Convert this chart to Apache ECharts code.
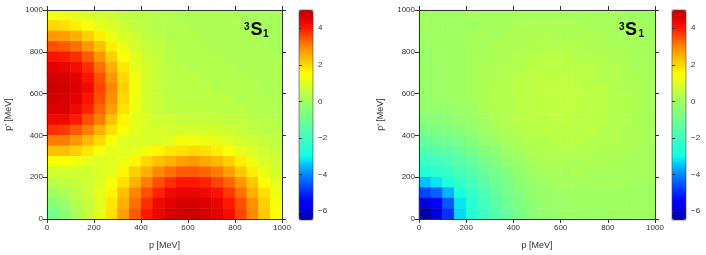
<!DOCTYPE html>
<html><head><meta charset="utf-8">
<script src="https://cdn.jsdelivr.net/npm/echarts/dist/echarts.min.js"></script>
<style>html,body{margin:0;padding:0;background:#fff}#c{width:706px;height:255px}</style>
</head><body><div id="c"></div>
<script>
// cell centres (MeV) of the sampled grid, both axes
const pCenters = [25,75,125,175,225,275,325,375,425,475,525,575,625,675,725,775,825,875,925,975];
const axisTicks = [0,200,400,600,800,1000];
const colorbarTicks = [-6,-4,-2,0,2,4];
const valueMin = -6.5;
const valueMax = 5;
const panelTitle = ['3','S','1'];
const xTitle = 'p [MeV]';
const yTitle = "p' [MeV]";

// left panel, rows from p' = 975 (top) down to p' = 25 (bottom)
const leftRows = [
[1.3,1.2,1.1,0.9,0.8,0.7,0.5,0.4,0.4,0.3,0.3,0.2,0.2,0.2,0.2,0.2,0.1,0.1,0.1,0.1],
[2.0,1.9,1.7,1.4,1.1,0.9,0.7,0.5,0.4,0.3,0.3,0.3,0.2,0.2,0.2,0.2,0.2,0.1,0.1,0.1],
[2.8,2.7,2.5,2.1,1.7,1.2,0.9,0.7,0.5,0.4,0.3,0.3,0.3,0.2,0.2,0.2,0.2,0.2,0.1,0.1],
[3.5,3.4,3.2,2.8,2.3,1.7,1.2,0.8,0.6,0.5,0.4,0.3,0.3,0.3,0.2,0.2,0.2,0.2,0.2,0.1],
[4.1,4.0,3.8,3.4,2.8,2.1,1.4,1.0,0.7,0.5,0.4,0.3,0.3,0.3,0.3,0.2,0.2,0.2,0.2,0.2],
[4.5,4.4,4.2,3.8,3.2,2.5,1.8,1.1,0.8,0.6,0.4,0.4,0.3,0.3,0.3,0.3,0.2,0.2,0.2,0.2],
[4.8,4.7,4.5,4.1,3.5,2.8,2.0,1.3,0.8,0.6,0.4,0.4,0.4,0.3,0.3,0.3,0.3,0.2,0.2,0.2],
[4.9,4.8,4.6,4.3,3.6,3.0,2.1,1.3,0.8,0.6,0.4,0.4,0.4,0.4,0.3,0.3,0.3,0.3,0.2,0.2],
[4.8,4.7,4.5,4.1,3.5,2.9,2.0,1.3,0.8,0.6,0.5,0.4,0.4,0.4,0.4,0.4,0.3,0.3,0.3,0.2],
[4.6,4.6,4.3,3.9,3.3,2.7,1.9,1.2,0.8,0.6,0.5,0.5,0.5,0.5,0.4,0.4,0.4,0.3,0.3,0.3],
[4.3,4.3,4.0,3.5,3.1,2.3,1.6,1.1,0.9,0.7,0.7,0.6,0.6,0.6,0.6,0.5,0.5,0.4,0.4,0.3],
[3.8,3.7,3.4,3.1,2.5,1.9,1.4,1.1,0.9,0.9,0.8,0.8,0.8,0.8,0.8,0.7,0.6,0.5,0.4,0.4],
[3.1,3.1,2.8,2.4,2.0,1.4,1.0,0.9,0.9,0.9,1.0,1.3,1.3,1.2,1.1,1.0,0.8,0.7,0.6,0.5],
[2.3,2.3,2.1,1.8,1.4,1.1,1.0,1.1,1.3,1.6,1.8,1.9,2.0,1.9,1.7,1.4,1.1,0.9,0.7,0.6],
[1.5,1.5,1.3,1.1,1.0,1.0,1.2,1.6,2.0,2.3,2.5,2.7,2.8,2.6,2.4,2.1,1.7,1.2,0.9,0.7],
[0.8,0.8,0.8,0.8,0.9,1.1,1.6,2.1,2.5,3.0,3.2,3.4,3.4,3.3,3.1,2.7,2.2,1.7,1.2,0.8],
[0.4,0.5,0.6,0.7,1.0,1.4,1.9,2.5,3.1,3.5,3.8,4.0,4.0,3.9,3.6,3.3,2.8,2.2,1.5,1.1],
[0.0,0.2,0.4,0.7,1.1,1.6,2.3,3.0,3.5,3.9,4.3,4.4,4.4,4.3,4.1,3.7,3.2,2.5,1.9,1.2],
[-0.4,-0.2,0.3,0.6,1.0,1.8,2.5,3.2,3.8,4.3,4.5,4.7,4.7,4.6,4.4,4.0,3.5,2.9,2.1,1.4],
[-0.9,-0.4,0.1,0.6,1.1,1.9,2.7,3.4,4.0,4.4,4.7,4.8,4.9,4.7,4.5,4.2,3.6,3.0,2.2,1.5]
];

// right panel, rows from p' = 975 (top) down to p' = 25 (bottom)
const rightRows = [
[0.0,0.0,0.0,0.0,0.1,0.1,0.1,0.1,0.1,0.1,0.1,0.1,0.1,0.1,0.1,0.1,0.1,0.0,0.0,0.0],
[0.0,0.0,0.0,0.0,0.0,0.1,0.1,0.1,0.2,0.2,0.2,0.2,0.2,0.2,0.1,0.1,0.1,0.1,0.1,0.0],
[0.0,0.0,0.0,0.0,0.1,0.1,0.1,0.2,0.2,0.2,0.3,0.2,0.2,0.2,0.2,0.2,0.1,0.1,0.1,0.0],
[-0.1,0.0,0.0,0.0,0.1,0.1,0.2,0.2,0.2,0.3,0.3,0.3,0.3,0.3,0.2,0.2,0.2,0.1,0.1,0.1],
[-0.1,-0.1,0.0,0.0,0.1,0.1,0.2,0.2,0.3,0.3,0.4,0.4,0.4,0.3,0.3,0.3,0.2,0.2,0.1,0.1],
[-0.1,-0.1,0.0,0.0,0.1,0.2,0.2,0.3,0.3,0.4,0.4,0.4,0.4,0.4,0.4,0.3,0.3,0.2,0.1,0.1],
[-0.1,-0.1,0.0,0.0,0.1,0.2,0.2,0.3,0.4,0.4,0.5,0.5,0.5,0.4,0.4,0.3,0.3,0.2,0.2,0.1],
[-0.1,-0.1,0.0,0.0,0.1,0.2,0.3,0.3,0.4,0.4,0.5,0.5,0.5,0.5,0.4,0.4,0.3,0.2,0.2,0.1],
[-0.2,-0.1,-0.1,0.0,0.1,0.2,0.3,0.3,0.4,0.4,0.5,0.5,0.5,0.5,0.4,0.4,0.3,0.3,0.2,0.1],
[-0.3,-0.3,-0.2,-0.1,0.0,0.2,0.3,0.3,0.4,0.4,0.5,0.5,0.5,0.5,0.4,0.4,0.3,0.3,0.2,0.1],
[-0.5,-0.5,-0.4,-0.2,-0.1,0.0,0.2,0.3,0.4,0.4,0.4,0.5,0.5,0.4,0.4,0.4,0.3,0.3,0.2,0.1],
[-0.8,-0.7,-0.6,-0.5,-0.3,-0.1,0.1,0.2,0.3,0.4,0.4,0.4,0.4,0.4,0.4,0.3,0.3,0.2,0.2,0.1],
[-1.2,-1.1,-1.0,-0.8,-0.6,-0.3,-0.1,0.1,0.2,0.3,0.3,0.4,0.4,0.4,0.3,0.3,0.3,0.2,0.2,0.1],
[-1.6,-1.5,-1.4,-1.2,-0.9,-0.6,-0.4,-0.1,0.1,0.2,0.3,0.3,0.3,0.3,0.3,0.2,0.2,0.2,0.1,0.1],
[-2.1,-2.0,-1.8,-1.5,-1.2,-0.9,-0.6,-0.3,-0.1,0.1,0.2,0.2,0.2,0.2,0.2,0.2,0.2,0.1,0.1,0.1],
[-2.6,-2.5,-2.2,-1.9,-1.6,-1.2,-0.9,-0.6,-0.3,-0.1,0.1,0.1,0.1,0.2,0.1,0.1,0.1,0.1,0.1,0.1],
[-3.5,-3.2,-2.8,-2.3,-1.9,-1.5,-1.1,-0.8,-0.4,-0.2,-0.1,0.1,0.1,0.1,0.1,0.1,0.1,0.1,0.0,0.0],
[-4.7,-4.4,-3.6,-2.8,-2.2,-1.8,-1.3,-0.9,-0.6,-0.3,-0.2,-0.1,0.0,0.0,0.0,0.0,0.0,0.0,0.0,0.0],
[-6.0,-5.5,-4.5,-3.2,-2.5,-2.0,-1.5,-1.1,-0.7,-0.4,-0.2,-0.1,-0.1,0.0,0.0,0.0,0.0,0.0,0.0,0.0],
[-6.5,-6.0,-4.9,-3.3,-2.6,-2.1,-1.6,-1.2,-0.8,-0.5,-0.3,-0.2,-0.1,-0.1,-0.1,-0.1,0.0,0.0,0.0,0.0]
];

// colour map, evenly spaced from valueMin to valueMax (style, not data)
const colormap = ['#0000a0','#0000d8','#0000ff','#0028ff','#0058ff','#0088ff','#00c0ff','#10ffe8',
  '#28ffd0','#40ffc0','#58ffa8','#70ff90','#88ff78','#a0ff60','#c0ff40','#e0ff20',
  '#ffff00','#ffd800','#ffb000','#ff8800','#ff5000','#ff1800','#e40000','#c40000'];

function toCells(rows){
  const out = [];
  rows.forEach((row, r) => row.forEach((v, c) => out.push([c, rows.length - 1 - r, v])));
  return out;
}

const FONT = 'Liberation Sans, Arial, sans-serif';
const AX = '#333';
const panels = [
  {left: 47, width: 235, cb: 299},
  {left: 419, width: 236, cb: 672}
];

const grid = [], xAxis = [], yAxis = [], series = [], visualMap = [], graphic = [];
panels.forEach((pn, i) => {
  grid.push({left: pn.left, top: 10, width: pn.width, height: 210});
  const gi = grid.length - 1;
  const valAxisBase = {gridIndex: gi, type: 'value', min: axisTicks[0], max: axisTicks[axisTicks.length - 1],
    interval: axisTicks[1] - axisTicks[0], z: 10,
    axisLine: {show: true, lineStyle: {color: AX, width: 1}},
    axisTick: {show: true, inside: false, length: 4, lineStyle: {color: AX}},
    splitLine: {show: false}};
  const lblX = {fontSize: 8, color: AX, fontFamily: FONT, margin: 5, formatter: v => String(v)};
  const lblY = {fontSize: 8, color: AX, fontFamily: FONT, margin: 4, formatter: v => String(v)};
  xAxis.push({gridIndex: gi, type: 'category', data: pCenters, show: false});
  xAxis.push(Object.assign({}, valAxisBase, {position: 'bottom', axisLabel: lblX,
    name: xTitle, nameLocation: 'middle', nameGap: 22,
    nameTextStyle: {fontSize: 9, color: AX, fontFamily: FONT}}));
  xAxis.push(Object.assign({}, valAxisBase, {position: 'top', axisLabel: {show: false}}));
  yAxis.push({gridIndex: gi, type: 'category', data: pCenters, show: false});
  yAxis.push(Object.assign({}, valAxisBase, {position: 'left', axisLabel: lblY,
    name: yTitle, nameLocation: 'middle', nameGap: 34, nameRotate: 90,
    nameTextStyle: {fontSize: 9, color: AX, fontFamily: FONT}}));
  yAxis.push(Object.assign({}, valAxisBase, {position: 'right', axisLabel: {show: false}}));
  series.push({type: 'heatmap', xAxisIndex: xAxis.length - 3, yAxisIndex: yAxis.length - 3,
    data: toCells(i === 0 ? leftRows : rightRows), progressive: 0, silent: true,
    itemStyle: {borderWidth: 0}, emphasis: {disabled: true}});
  visualMap.push({type: 'continuous', seriesIndex: i, min: valueMin, max: valueMax,
    calculable: false, show: true, orient: 'vertical', left: pn.cb, top: 10,
    itemWidth: 14, itemHeight: 210, padding: 0, text: null, hoverLink: false,
    inRange: {color: colormap}});
});

// colorbar label axes
panels.forEach((pn) => {
  grid.push({left: pn.cb, top: 10, width: 14, height: 210});
  const gi = grid.length - 1;
  xAxis.push({gridIndex: gi, type: 'value', show: false});
  yAxis.push({gridIndex: gi, type: 'value', min: valueMin, max: valueMax, position: 'right', z: 10,
    axisLine: {show: false},
    axisTick: {show: true, length: 3, inside: false, lineStyle: {color: AX}, customValues: colorbarTicks},
    axisLabel: {show: true, fontSize: 8, color: AX, fontFamily: FONT, margin: 5,
      customValues: colorbarTicks, formatter: v => v < 0 ? '\u2212' + Math.abs(v) : String(v)},
    splitLine: {show: false}});
  graphic.push({type: 'rect', z: 100, shape: {x: pn.cb, y: 10, width: 14, height: 210},
    style: {fill: 'none', stroke: '#444', lineWidth: 0.6}});
});

// panel labels 3S1
[{x: 244, sx: 250.5, bx: 263}, {x: 619, sx: 625, bx: 638.5}].forEach(t => {
  graphic.push({type: 'text', z: 100, x: t.x, y: 27, style: {text: panelTitle[0], font: 'bold 10px ' + FONT, fill: '#000', textAlign: 'left', textVerticalAlign: 'middle'}});
  graphic.push({type: 'text', z: 100, x: t.sx, y: 30.3, style: {text: panelTitle[1], font: 'bold 18px ' + FONT, fill: '#000', textAlign: 'left', textVerticalAlign: 'middle'}});
  graphic.push({type: 'text', z: 100, x: t.bx, y: 34, style: {text: panelTitle[2], font: 'bold 10px ' + FONT, fill: '#000', textAlign: 'left', textVerticalAlign: 'middle'}});
});

const chart = echarts.init(document.getElementById('c'), null, {renderer: 'canvas'});
chart.setOption({animation: false, grid, xAxis, yAxis, series, visualMap, graphic});
</script></body></html>
